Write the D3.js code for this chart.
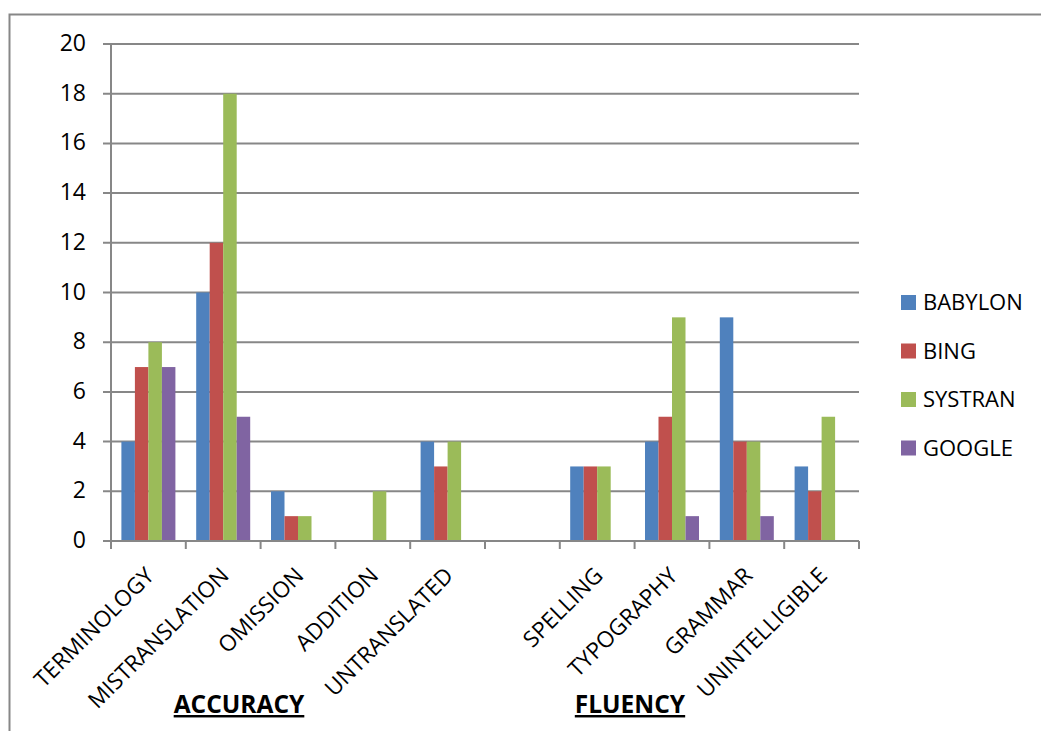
<!DOCTYPE html>
<html>
<head>
<meta charset="utf-8">
<script src="https://cdn.jsdelivr.net/npm/d3@7"></script>
<style>
  body { margin: 0; background: #fff; }
  text { font-family: "Open Sans", Lato, sans-serif; fill: #000; }
</style>
</head>
<body>
<svg id="chart" width="1041" height="731"></svg>
<script>
// categories (empty slot separates the two groups)
var categories = ["TERMINOLOGY", "MISTRANSLATION", "OMISSION", "ADDITION", "UNTRANSLATED",
                  "", "SPELLING", "TYPOGRAPHY", "GRAMMAR", "UNINTELLIGIBLE"];
var seriesNames = ["BABYLON", "BING", "SYSTRAN", "GOOGLE"];
var babylon = [4, 10, 2, 0, 4, 0, 3, 4, 9, 3];
var bing    = [7, 12, 1, 0, 3, 0, 3, 5, 4, 2];
var systran = [8, 18, 1, 2, 4, 0, 3, 9, 4, 5];
var google  = [7, 5, 0, 0, 0, 0, 0, 1, 1, 0];
var yTicks = [0, 2, 4, 6, 8, 10, 12, 14, 16, 18, 20];
var groupNames = ["ACCURACY", "FLUENCY"];
var colors = ["#4f81bd", "#c0504d", "#9bbb59", "#8064a2"];

var seriesValues = [babylon, bing, systran, google];

var svg = d3.select("#chart");

// outer frame
svg.append("rect")
    .attr("x", 9.5).attr("y", 14.5)
    .attr("width", 1100).attr("height", 800)
    .attr("fill", "none").attr("stroke", "#878787").attr("stroke-width", 2);

var plotLeft = 111, plotRight = 859, plotTop = 44, plotBottom = 541;

var x = d3.scaleBand()
    .domain(d3.range(categories.length))
    .range([plotLeft, plotRight])
    .paddingInner(0).paddingOuter(0);

var inner = d3.scaleBand()
    .domain(d3.range(seriesNames.length))
    .range([0, x.bandwidth()])
    .paddingOuter(0.77);

var y = d3.scaleLinear().domain([0, 20]).range([plotBottom, plotTop]);

// gridlines
svg.append("g")
    .selectAll("line")
    .data(yTicks)
    .enter()
    .append("line")
    .attr("x1", plotLeft - 8).attr("x2", plotRight)
    .attr("y1", d => y(d)).attr("y2", d => y(d))
    .attr("stroke", "#878787").attr("stroke-width", 2);

// y axis line
svg.append("line")
    .attr("x1", plotLeft).attr("x2", plotLeft)
    .attr("y1", plotTop).attr("y2", plotBottom)
    .attr("stroke", "#878787").attr("stroke-width", 2);

// y tick labels
svg.append("g")
    .selectAll("text")
    .data(yTicks)
    .enter()
    .append("text")
    .attr("x", 86)
    .attr("y", d => y(d) + 7)
    .attr("text-anchor", "end")
    .attr("font-size", 23)
    .text(d => d);

// x category tick marks
svg.append("g")
    .selectAll("line")
    .data(d3.range(categories.length + 1))
    .enter()
    .append("line")
    .attr("x1", d => plotLeft + d * x.step()).attr("x2", d => plotLeft + d * x.step())
    .attr("y1", plotBottom).attr("y2", plotBottom + 8)
    .attr("stroke", "#878787").attr("stroke-width", 2);

// bars
seriesValues.forEach((vals, s) => {
    svg.append("g")
        .selectAll("rect")
        .data(vals)
        .enter()
        .append("rect")
        .attr("x", (d, i) => x(i) + inner(s))
        .attr("width", inner.bandwidth())
        .attr("y", d => y(d))
        .attr("height", d => plotBottom - y(d))
        .attr("fill", colors[s]);
});

// redraw baseline on top of bars
svg.append("line")
    .attr("x1", plotLeft).attr("x2", plotRight)
    .attr("y1", plotBottom).attr("y2", plotBottom)
    .attr("stroke", "#878787").attr("stroke-width", 2);

// category labels
svg.append("g")
    .selectAll("text")
    .data(categories)
    .enter()
    .append("text")
    .attr("transform", (d, i) => "translate(" + (x(i) + x.bandwidth() / 2 + 7) + "," + (plotBottom + 36) + ") rotate(-45)")
    .attr("text-anchor", "end")
    .attr("font-size", 22.5)
    .text(d => d);

// group labels, centred under their categories
var groupCentres = [239, 630];
svg.append("g")
    .selectAll("text")
    .data(groupNames)
    .enter()
    .append("text")
    .attr("x", (d, i) => groupCentres[i]).attr("y", 713)
    .attr("text-anchor", "middle")
    .attr("font-size", 24.5)
    .attr("font-weight", "bold")
    .attr("text-decoration", "underline")
    .text(d => d);

// legend
var legend = svg.append("g")
    .selectAll("g")
    .data(seriesNames)
    .enter()
    .append("g")
    .attr("transform", (d, i) => "translate(901," + (295 + i * 48.5) + ")");
legend.append("rect")
    .attr("width", 15).attr("height", 15)
    .attr("fill", (d, i) => colors[i]);
legend.append("text")
    .attr("x", 22).attr("y", 15)
    .attr("font-size", 22)
    .text(d => d);
</script>
</body>
</html>
